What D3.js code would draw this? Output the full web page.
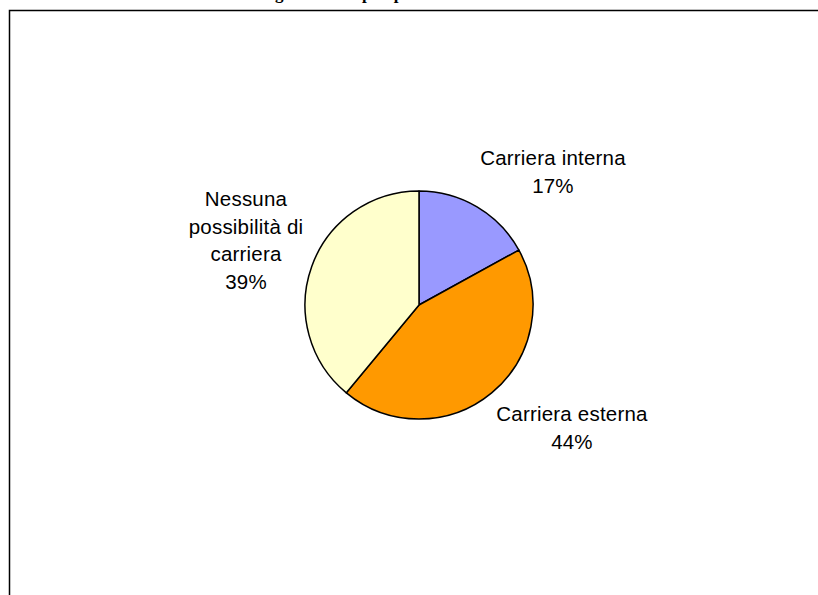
<!DOCTYPE html>
<html>
<head>
<meta charset="utf-8">
<script src="https://cdn.jsdelivr.net/npm/d3@7"></script>
<style>
  html, body { margin: 0; padding: 0; background: #fff; }
  svg { display: block; }
</style>
</head>
<body>
<svg id="chart" width="818" height="595"></svg>
<script>
const categories = ["Carriera interna", "Carriera esterna", "Nessuna possibilità di carriera"];
const values = [17, 44, 39];
const labelLines = [["Carriera interna"], ["Carriera esterna"], ["Nessuna", "possibilità di", "carriera"]];
const colors = ["#9999FF", "#FF9900", "#FFFFCC"];
const titleText = "Figura 2 – Le prospettive di carriera";

const svg = d3.select("#chart");
const W = 818, H = 595;

// title (mostly clipped above the frame, as in the reference)
svg.append("text")
  .attr("x", 260).attr("y", -1)
  .attr("font-family", "Liberation Serif, Times New Roman, serif")
  .attr("font-weight", "bold")
  .attr("font-size", 17)
  .attr("fill", "#000")
  .text(titleText);

// frame
svg.append("rect")
  .attr("x", 9.5).attr("y", 10.5)
  .attr("width", W).attr("height", H)
  .attr("fill", "none").attr("stroke", "#000").attr("stroke-width", 1.5);

const cx = 419, cy = 305, r = 114;
const data = categories.map((c, i) => ({ name: c, value: values[i], lines: labelLines[i], color: colors[i] }));

const pie = d3.pie().value(d => d.value).sort(null);
const arc = d3.arc().innerRadius(0).outerRadius(r);
const arcs = pie(data);

const g = svg.append("g").attr("transform", `translate(${cx},${cy})`);
g.selectAll("path").data(arcs).enter().append("path")
  .attr("d", arc)
  .attr("fill", d => d.data.color)
  .attr("stroke", "#000")
  .attr("stroke-width", 1.5)
  .attr("stroke-linejoin", "round");

// label positions (centre x, first baseline) relative to pie centre
const labelPos = [
  { dx: 134, dy: -140 },
  { dx: 153, dy: 116 },
  { dx: -173, dy: -99 }
];
const lineH = 27.7;
arcs.forEach((a, i) => {
  const lines = a.data.lines.concat([a.data.value + "%"]);
  const t = g.append("text")
    .attr("text-anchor", "middle")
    .attr("font-family", "Liberation Sans, Arial, sans-serif")
    .attr("font-size", 20.5)
    .attr("letter-spacing", 0.2)
    .attr("fill", "#000");
  lines.forEach((ln, j) => {
    t.append("tspan")
      .attr("x", labelPos[i].dx)
      .attr("y", labelPos[i].dy + j * lineH)
      .text(ln);
  });
});
</script>
</body>
</html>
